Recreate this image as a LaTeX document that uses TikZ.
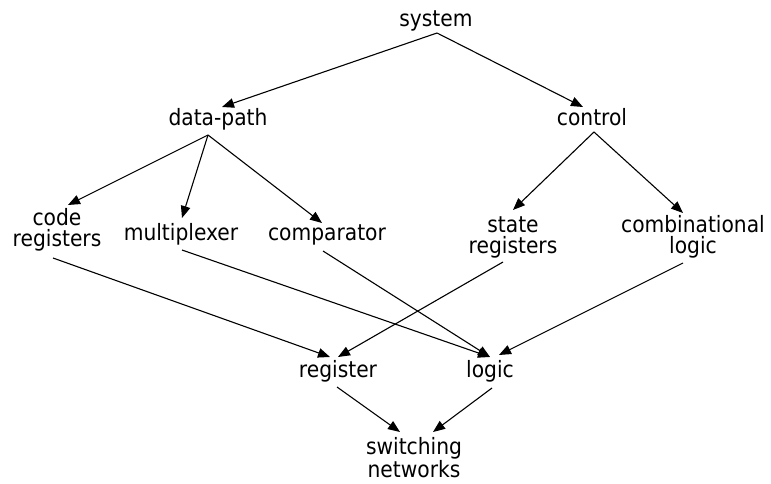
\documentclass[tikz,border=0pt]{standalone}
\usepackage{fontspec}
\setmainfont{DejaVu Sans Condensed}
\usetikzlibrary{arrows.meta}
\tikzstyle{arrow} = [line width=1.1pt, -{Triangle[length=12pt,width=9.5pt]}]
\tikzstyle{level} = [anchor=base, align=center, inner sep=0pt, font=\fontsize{22.5}{21}\selectfont]
\begin{document}
\begin{tikzpicture}[x=1pt, y=-1pt]
		\useasboundingbox (0,0) rectangle (771,484);
		% Nodes (anchored at the baseline of the last line)
		\begin{scope}[every node/.style={level}]
		\node (system) at (436,27) {system};
		\node (datapath) at (218,126) {data-path};
		\node (control) at (592,126) {control};
		\node (coderegs) at (57,246) {code\\registers};
		\node (mux) at (181,240) {multiplexer};
		\node (comp) at (327,240) {comparator};
		\node (stateregs) at (513,253) {state\\registers};
		\node (comblogic) at (693,253) {combinational\\logic};
		\node (register) at (338,377) {register};
		\node (logic) at (490,377) {logic};
		\node (switching) at (414,477) {switching\\networks};
		\end{scope}
		% Connectors
		\draw [arrow] ([shift={(1,6)}]system.base)--([shift={(4,-19)}]datapath.base);
		\draw [arrow] ([shift={(1,6)}]system.base)--([shift={(-9,-19)}]control.base);
		\draw [arrow] ([shift={(-10,9)}]datapath.base)--([shift={(11,-41)}]coderegs.base);
		\draw [arrow] ([shift={(-10,9)}]datapath.base)--([shift={(1,-22)}]mux.base);
		\draw [arrow] ([shift={(-10,9)}]datapath.base)--([shift={(-5,-17)}]comp.base);
		\draw [arrow] ([shift={(2,6)}]control.base)--([shift={(0,-43)}]stateregs.base);
		\draw [arrow] ([shift={(2,6)}]control.base)--([shift={(-10,-40)}]comblogic.base);
		\draw [arrow] ([shift={(-4,12)}]coderegs.base)--([shift={(-8,-20)}]register.base);
		\draw [arrow] ([shift={(-10,9)}]stateregs.base)--([shift={(0,-20)}]register.base);
		\draw [arrow] ([shift={(1,10)}]mux.base)--([shift={(0,-20)}]logic.base);
		\draw [arrow] ([shift={(-4,11)}]comp.base)--([shift={(0,-20)}]logic.base);
		\draw [arrow] ([shift={(-10,10)}]comblogic.base)--([shift={(9,-22)}]logic.base);
		\draw [arrow] ([shift={(-1,10)}]register.base)--([shift={(-14,-45)}]switching.base);
		\draw [arrow] ([shift={(2,11)}]logic.base)--([shift={(19,-45)}]switching.base);
\end{tikzpicture}
\end{document}
